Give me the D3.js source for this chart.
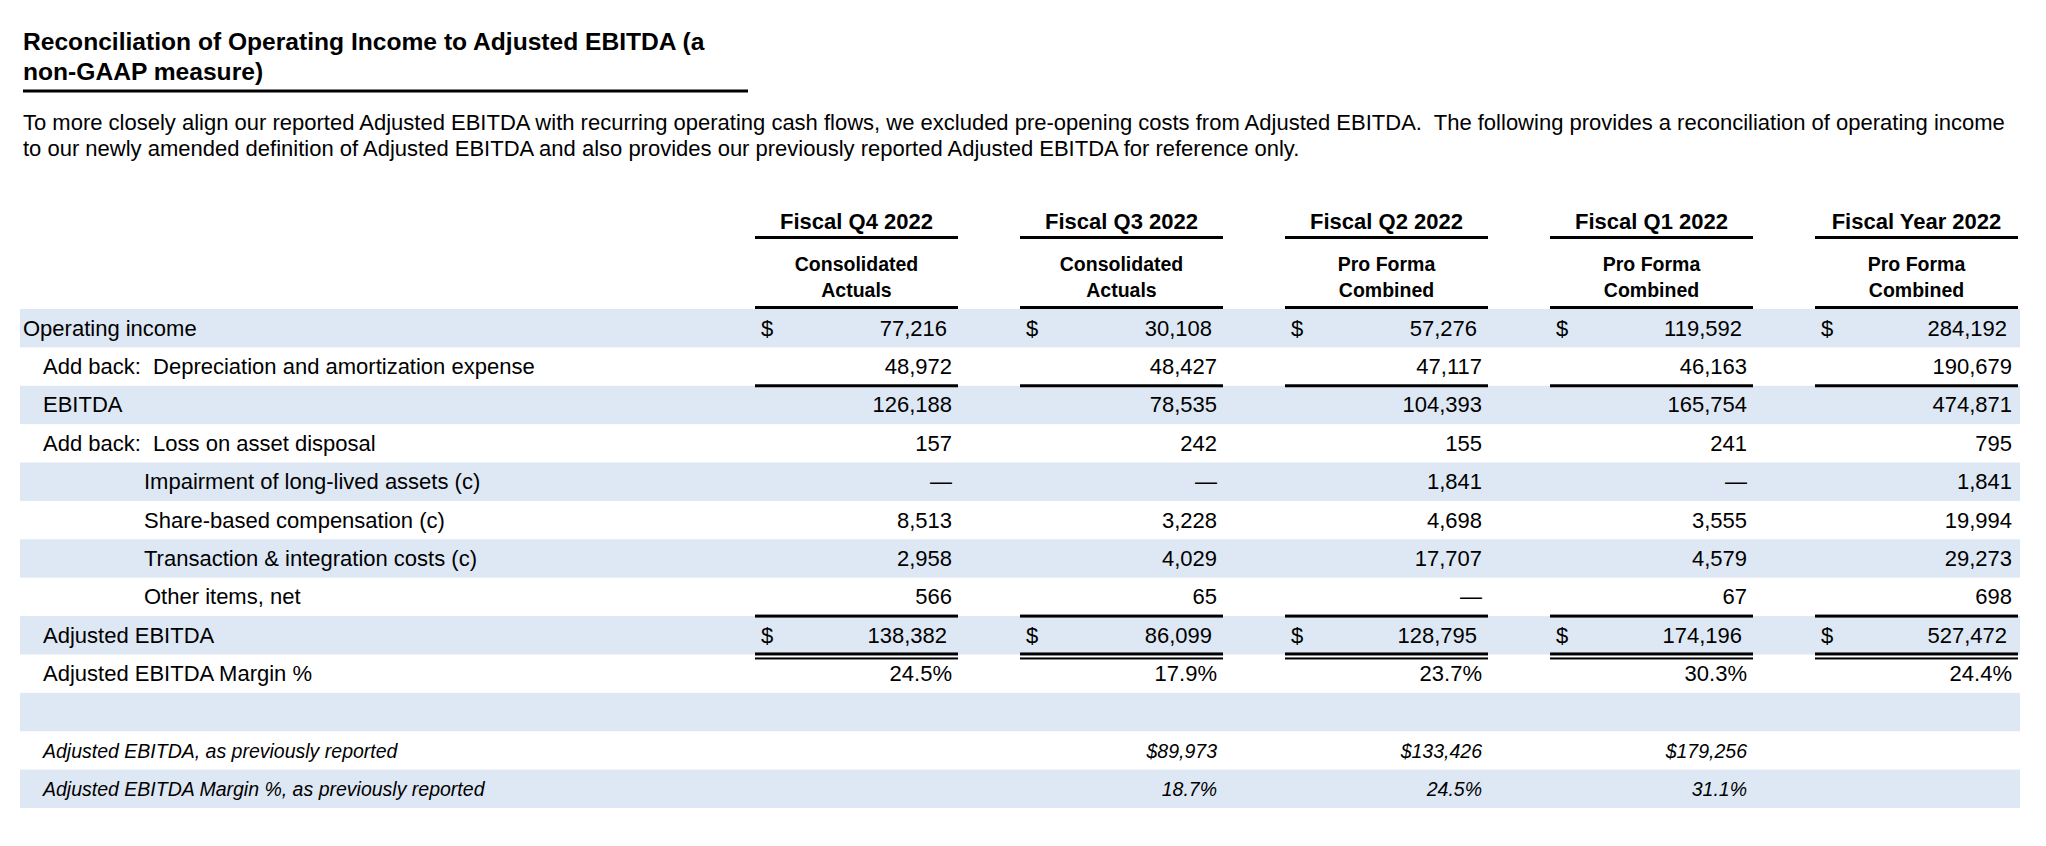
<!DOCTYPE html>
<html>
<head>
<meta charset="utf-8">
<script src="https://cdn.jsdelivr.net/npm/d3@7"></script>
<style>
  body { margin: 0; background: #fff; }
  svg text { font-family: "Liberation Sans", Arial, Helvetica, sans-serif; fill: #000; white-space: pre; }
</style>
</head>
<body>
<svg id="chart" width="2046" height="846"></svg>
<script>
// column headers
var columns = ["Fiscal Q4 2022", "Fiscal Q3 2022", "Fiscal Q2 2022", "Fiscal Q1 2022", "Fiscal Year 2022"];
var subHeads = [
  ["Consolidated", "Actuals"],
  ["Consolidated", "Actuals"],
  ["Pro Forma", "Combined"],
  ["Pro Forma", "Combined"],
  ["Pro Forma", "Combined"]
];

// row labels (0 = dash, null = blank)
var rowLabels = [
  "Operating income",
  "Add back:  Depreciation and amortization expense",
  "EBITDA",
  "Add back:  Loss on asset disposal",
  "Impairment of long-lived assets (c)",
  "Share-based compensation (c)",
  "Transaction & integration costs (c)",
  "Other items, net",
  "Adjusted EBITDA",
  "Adjusted EBITDA Margin %",
  "",
  "Adjusted EBITDA, as previously reported",
  "Adjusted EBITDA Margin %, as previously reported"
];
var rowIndent = [0, 1, 1, 1, 2, 2, 2, 2, 1, 1, 1, 1, 1];

var operatingIncome = [77216, 30108, 57276, 119592, 284192];
var depreciation    = [48972, 48427, 47117, 46163, 190679];
var ebitda          = [126188, 78535, 104393, 165754, 474871];
var lossDisposal    = [157, 242, 155, 241, 795];
var impairment      = [0, 0, 1841, 0, 1841];
var shareBased      = [8513, 3228, 4698, 3555, 19994];
var transaction     = [2958, 4029, 17707, 4579, 29273];
var otherItems      = [566, 65, 0, 67, 698];
var adjEbitda       = [138382, 86099, 128795, 174196, 527472];
var adjMargin       = [24.5, 17.9, 23.7, 30.3, 24.4];
var prevAdjEbitda   = [null, 89973, 133426, 179256, null];
var prevAdjMargin   = [null, 18.7, 24.5, 31.1, null];

var rowValues = [operatingIncome, depreciation, ebitda, lossDisposal, impairment,
  shareBased, transaction, otherItems, adjEbitda, adjMargin, [null, null, null, null, null],
  prevAdjEbitda, prevAdjMargin];
// kind of each row
var rowKind = ["dollar", "num", "num", "num", "num", "num", "num", "num", "dollar", "pct", "blank", "prevDollar", "prevPct"];

var svg = d3.select("#chart");
var fmt = d3.format(",");

// title
var title = svg.append("g");
title.append("text").attr("x", 23).attr("y", 50)
  .style("font-size", "24.6px").style("font-weight", "bold")
  .text("Reconciliation of Operating Income to Adjusted EBITDA (a");
title.append("text").attr("x", 23).attr("y", 80)
  .style("font-size", "24.6px").style("font-weight", "bold")
  .text("non-GAAP measure)");
svg.append("rect").attr("x", 23).attr("y", 89.5).attr("width", 725).attr("height", 3).attr("fill", "#000");

svg.append("text").attr("x", 23).attr("y", 130).style("font-size", "22px")
  .text("To more closely align our reported Adjusted EBITDA with recurring operating cash flows, we excluded pre-opening costs from Adjusted EBITDA.  The following provides a reconciliation of operating income");
svg.append("text").attr("x", 23).attr("y", 156).style("font-size", "22px")
  .text("to our newly amended definition of Adjusted EBITDA and also provides our previously reported Adjusted EBITDA for reference only.");

// scales
var x = d3.scaleBand().domain(columns).range([755, 2018]).paddingInner(0.234);
var y = d3.scaleBand().domain(d3.range(rowLabels.length)).range([309, 808]);

// shaded bands
svg.append("g").selectAll("rect")
  .data(d3.range(rowLabels.length).filter(function(i) { return i % 2 === 0; }))
  .enter().append("rect")
  .attr("x", 20).attr("width", 2000)
  .attr("y", function(i) { return y(i); })
  .attr("height", y.bandwidth())
  .attr("fill", "#dee8f4");

// column headers
var head = svg.append("g").selectAll("g").data(columns).enter().append("g");
head.append("text")
  .attr("x", function(d) { return x(d) + x.bandwidth() / 2; })
  .attr("y", 229).attr("text-anchor", "middle")
  .style("font-size", "22px").style("font-weight", "bold")
  .text(function(d) { return d; });
head.append("rect")
  .attr("x", function(d) { return x(d); }).attr("width", x.bandwidth())
  .attr("y", 236).attr("height", 3).attr("fill", "#000");
head.append("text")
  .attr("x", function(d) { return x(d) + x.bandwidth() / 2; })
  .attr("y", 271).attr("text-anchor", "middle")
  .style("font-size", "19.5px").style("font-weight", "bold")
  .text(function(d, i) { return subHeads[i][0]; });
head.append("text")
  .attr("x", function(d) { return x(d) + x.bandwidth() / 2; })
  .attr("y", 297).attr("text-anchor", "middle")
  .style("font-size", "19.5px").style("font-weight", "bold")
  .text(function(d, i) { return subHeads[i][1]; });
head.append("rect")
  .attr("x", function(d) { return x(d); }).attr("width", x.bandwidth())
  .attr("y", 306).attr("height", 3).attr("fill", "#000");

// row labels
var indentX = [23, 43, 144];
svg.append("g").selectAll("text").data(rowLabels).enter().append("text")
  .attr("x", function(d, i) { return indentX[rowIndent[i]]; })
  .attr("y", function(d, i) { return y(i) + y.bandwidth() / 2 + 7.5; })
  .style("font-size", function(d, i) { return rowKind[i].indexOf("prev") === 0 ? "19.5px" : "22px"; })
  .style("font-style", function(d, i) { return rowKind[i].indexOf("prev") === 0 ? "italic" : "normal"; })
  .text(function(d) { return d; });

// cell values
function cellText(v, kind) {
  if (v === null) return "";
  if (v === 0) return "—";
  if (kind === "pct" || kind === "prevPct") return v.toFixed(1) + "%";
  if (kind === "prevDollar") return "$" + fmt(v);
  return fmt(v);
}

rowValues.forEach(function(vals, r) {
  var kind = rowKind[r];
  var g = svg.append("g");
  var italic = kind.indexOf("prev") === 0;
  g.selectAll("text.val").data(vals).enter().append("text")
    .attr("class", "val")
    .attr("x", function(d, i) { return x(columns[i]) + x.bandwidth() - (kind === "dollar" ? 11 : 6); })
    .attr("y", y(r) + y.bandwidth() / 2 + 7.5)
    .attr("text-anchor", "end")
    .style("font-size", italic ? "19.5px" : "22px")
    .style("font-style", italic ? "italic" : "normal")
    .text(function(d) { return cellText(d, kind); });
  if (kind === "dollar") {
    g.selectAll("text.cur").data(vals).enter().append("text")
      .attr("class", "cur")
      .attr("x", function(d, i) { return x(columns[i]) + 6; })
      .attr("y", y(r) + y.bandwidth() / 2 + 7.5)
      .style("font-size", "22px")
      .text("$");
  }
});

// subtotal rules
var rules = svg.append("g");
[2, 8].forEach(function(r) {
  rules.selectAll(null).data(columns).enter().append("rect")
    .attr("x", function(d) { return x(d); }).attr("width", x.bandwidth())
    .attr("y", y(r) - 1.5).attr("height", 3).attr("fill", "#000");
});
// double rule under Adjusted EBITDA
rules.selectAll(null).data(columns).enter().append("rect")
  .attr("x", function(d) { return x(d); }).attr("width", x.bandwidth())
  .attr("y", y(9) - 2).attr("height", 3).attr("fill", "#000");
rules.selectAll(null).data(columns).enter().append("rect")
  .attr("x", function(d) { return x(d); }).attr("width", x.bandwidth())
  .attr("y", y(9) + 3).attr("height", 2).attr("fill", "#000");
</script>
</body>
</html>
